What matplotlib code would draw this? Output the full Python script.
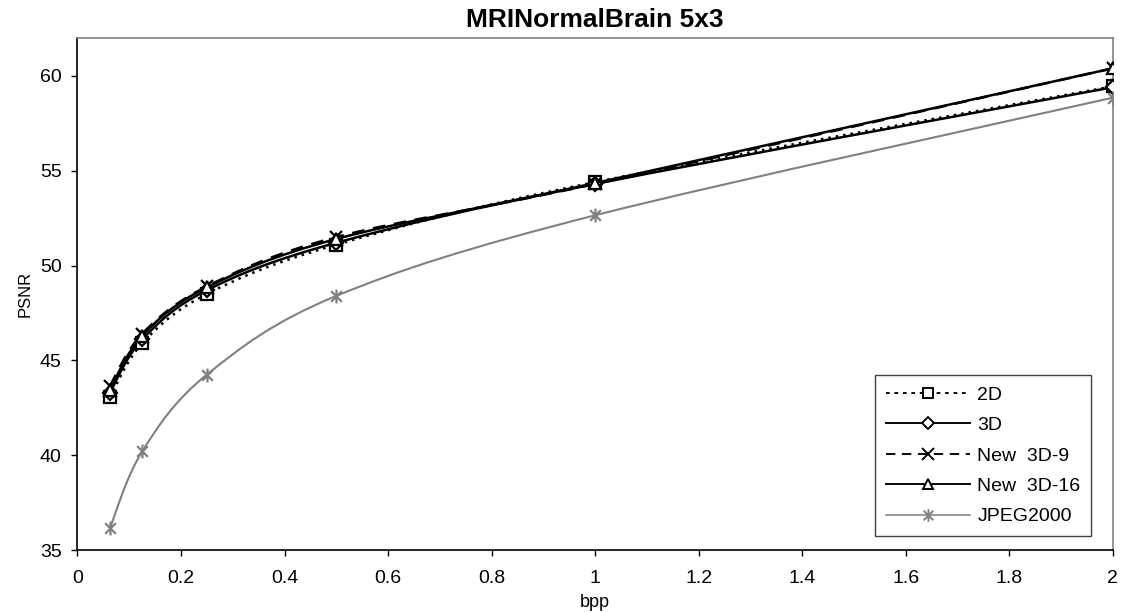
import numpy as np
import matplotlib
matplotlib.use('Agg')
import matplotlib.pyplot as plt
from matplotlib.path import Path
from matplotlib.patches import PathPatch
from matplotlib.lines import Line2D
from matplotlib.ticker import FuncFormatter

plt.rcParams["font.family"] = ["Liberation Sans", "DejaVu Sans"]

# Data
bpp = [0.0625, 0.125, 0.25, 0.5, 1.0, 2.0]
psnr_2d = [43.05, 45.9, 48.5, 51.1, 54.4, 59.45]
psnr_3d = [43.3, 46.1, 48.7, 51.2, 54.3, 59.4]
psnr_new9 = [43.65, 46.4, 48.9, 51.5, 54.3, 60.4]
psnr_new16 = [43.45, 46.3, 48.85, 51.4, 54.35, 60.4]
psnr_jpeg = [36.15, 40.2, 44.25, 48.4, 52.65, 58.85]

labels = ["2D", "3D", "New  3D-9", "New  3D-16", "JPEG2000"]
x_ticks = [0, 0.2, 0.4, 0.6, 0.8, 1, 1.2, 1.4, 1.6, 1.8, 2]
y_ticks = [35, 40, 45, 50, 55, 60]

# Excel-like star marker: an x with a vertical bar
star = Path([(-1, -1), (1, 1), (-1, 1), (1, -1), (0, -1.3), (0, 1.3)],
            [Path.MOVETO, Path.LINETO, Path.MOVETO, Path.LINETO, Path.MOVETO, Path.LINETO])


def smooth_path(x, y):
    # Bezier path through the points (like Excel's smoothed line)
    pts = np.column_stack([x, y])
    n = len(pts)
    verts = [pts[0]]
    codes = [Path.MOVETO]
    for i in range(n - 1):
        p0 = pts[max(i - 1, 0)]
        p1 = pts[i]
        p2 = pts[i + 1]
        p3 = pts[min(i + 2, n - 1)]
        verts += [p1 + (p2 - p0) / 6, p2 - (p3 - p1) / 6, p2]
        codes += [Path.CURVE4] * 3
    return Path(verts, codes)


series = [
    (psnr_2d, "black", (0, (1, 2.0)), "s", 1.8),
    (psnr_3d, "black", "-", "D", 1.8),
    (psnr_new9, "black", (0, (5, 3.5)), "x", 1.8),
    (psnr_new16, "black", "-", "^", 1.8),
    (psnr_jpeg, "#808080", "-", star, 1.5),
]
msizes = [8, 7, 9, 8, 10]

fig, ax = plt.subplots(figsize=(11.23, 6.12), dpi=100)
fig.subplots_adjust(left=0.069, right=0.991, bottom=0.1013, top=0.938)

handles = []
for (vals, col, ls, mk, lw), lab, ms in zip(series, labels, msizes):
    patch = PathPatch(smooth_path(bpp, vals), facecolor="none", edgecolor=col,
                      linestyle=ls, linewidth=lw, zorder=3)
    ax.add_patch(patch)
    fill = "white" if mk not in ("x", star) else col
    ax.plot(bpp, vals, linestyle="none", marker=mk, markersize=ms,
            markerfacecolor=fill, markeredgecolor=col, markeredgewidth=1.6, zorder=4)
    leg_ls = (0, (2, 2.5)) if lab == "2D" else ls
    handles.append(Line2D([], [], color=col, linestyle=leg_ls, linewidth=lw * 0.75,
                          marker=mk, markersize=ms - 1,
                          markerfacecolor=fill, markeredgecolor=col,
                          markeredgewidth=1.4, label=lab))

ax.set_xlim(0, 2)
ax.set_ylim(35, 62)
ax.set_xticks(x_ticks)
ax.set_yticks(y_ticks)
ax.xaxis.set_major_formatter(FuncFormatter(lambda v, p: "%g" % v))
ax.tick_params(axis="both", labelsize=14, length=4.5, width=1, direction="out")
ax.tick_params(axis="x", pad=10)
ax.tick_params(axis="y", pad=7)

for side in ["left", "bottom"]:
    ax.spines[side].set_color("black")
    ax.spines[side].set_linewidth(1.2)
for side in ["top", "right"]:
    ax.spines[side].set_color("#808080")
    ax.spines[side].set_linewidth(1.2)

ax.set_title("MRINormalBrain 5x3", fontsize=19, fontweight="bold", pad=8)
ax.set_xlabel("bpp", fontsize=13, labelpad=5)
ax.set_ylabel("PSNR", fontsize=12, labelpad=5)

leg = ax.legend(handles=handles, loc="lower right", bbox_to_anchor=(0.979, 0.027),
                borderaxespad=0, fontsize=14, fancybox=False, framealpha=1,
                edgecolor="#404040", handlelength=4.3, handletextpad=0.4,
                labelspacing=0.66, borderpad=0.55, numpoints=1)
leg.get_frame().set_linewidth(1.0)

fig.savefig("out.png", dpi=100)
